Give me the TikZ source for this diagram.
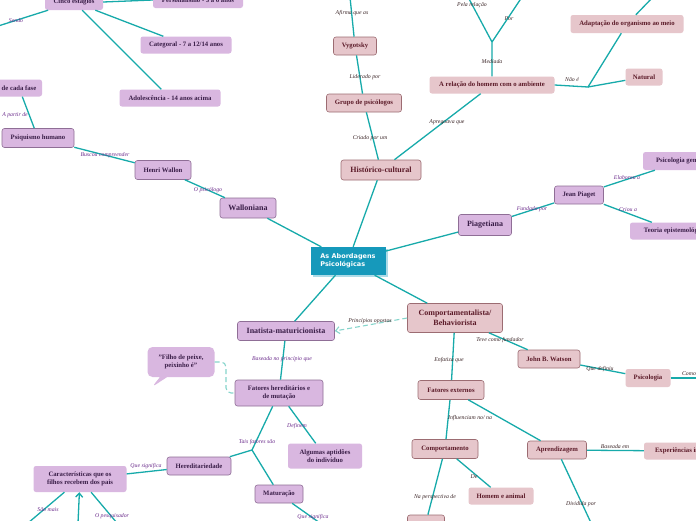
\documentclass[tikz,border=0pt]{standalone}
\usepackage{fontspec}
\setmainfont{Liberation Serif}
\newfontfamily\hubfont{DejaVu Sans}
\usetikzlibrary{arrows.meta,shapes.callouts,shadows}
\definecolor{linkteal}{HTML}{17AAAA}
\definecolor{dashteal}{HTML}{86D5CC}
\definecolor{hubblue}{HTML}{1699BB}
\definecolor{lilac}{HTML}{D9B7E0}
\definecolor{lilacline}{HTML}{8F6E96}
\definecolor{lilactext}{HTML}{3A1E48}
\definecolor{rose}{HTML}{E6C6CB}
\definecolor{roseline}{HTML}{9C6C72}
\definecolor{rosetext}{HTML}{5B1A28}
\definecolor{lbllilac}{HTML}{6B2C8C}
\definecolor{lblrose}{HTML}{3A2426}
\tikzset{
  box/.style={rounded corners=2.5pt,font=\fontsize{6.7}{8}\selectfont\bfseries,align=center,inner sep=1pt},
  lil/.style={box,fill=lilac,text=lilactext},
  lilb/.style={lil,draw=lilacline,line width=0.6pt},
  ros/.style={box,fill=rose,text=rosetext},
  rosb/.style={ros,draw=roseline,line width=0.6pt},
  big/.style={font=\fontsize{8}{9.5}\selectfont\bfseries},
  sz/.style 2 args={minimum width=#1pt,minimum height=#2pt},
  lbl/.style={font=\fontsize{5.8}{7}\selectfont\itshape,inner sep=0pt},
  llil/.style={lbl,text=lbllilac},
  lros/.style={lbl,text=lblrose},
  link/.style={draw=linkteal,line width=1.3pt},
  dashlink/.style={draw=dashteal,line width=1.1pt,dash pattern=on 5pt off 3pt}
}
\begin{document}
\begin{tikzpicture}[x=1pt,y=-1pt]
  \fill[white] (0,0) rectangle (696,520);
  \useasboundingbox (0,0) rectangle (696,520);
  \node[fill=hubblue,text=white,align=left,sz={75}{28},inner sep=1pt,
        font=\hubfont\fontsize{6.5}{8}\selectfont\bfseries,
        drop shadow={shadow xshift=2pt,shadow yshift=-2pt,fill=hubblue!35,opacity=1}]
        (hub) at (348,261) {As Abordagens\\Psicológicas};
  \node[lil,sz={58}{16}] (cinco) at (74,2) {Cinco estágios};
  \node[lil,sz={90}{16}] (perso) at (198,0) {Personalismo - 3 a 6 anos};
  \node[lil,sz={91}{17}] (categ) at (186,45) {Categoral - 7 a 12/14 anos};
  \node[lil,sz={101}{17}] (adol) at (170,98) {Adolescência - 14 anos acima};
  \node[lil,sz={46}{17}] (cada) at (19,88) {de cada fase};
  \node[lilb,sz={72}{19}] (psiq) at (38,138) {Psiquismo humano};
  \node[lilb,sz={56}{19}] (henri) at (163,170) {Henri Wallon};
  \node[lilb,big,sz={56}{20}] (wallo) at (248,208) {Walloniana};
  \node[rosb,big,sz={80}{20}] (hist) at (381,170) {Histórico-cultural};
  \node[rosb,sz={75}{18}] (grupo) at (364,103) {Grupo de psicólogos};
  \node[rosb,sz={43}{18}] (vygo) at (355,46) {Vygotsky};
  \node[ros,sz={125}{17}] (rel) at (492,85) {A relação do homem com o ambiente};
  \node[ros,sz={113}{18}] (adap) at (627,24) {Adaptação do organismo ao meio};
  \node[ros,sz={37}{17}] (natu) at (644,77) {Natural};
  \node[lilb,big,sz={53}{21}] (piag) at (485,225) {Piagetiana};
  \node[lilb,sz={49}{18}] (jean) at (579,195) {Jean Piaget};
  \node[lil,sz={80}{18}] (psigen) at (683,161) {Psicologia genética};
  \node[lil,sz={90}{17}] (teoria) at (675,231) {Teoria epistemológica};
  \node[rosb,big,sz={95}{29}] (comp) at (455,318) {Comportamentalista/\\Behaviorista};
  \node[rosb,sz={62}{18}] (watson) at (549,359) {John B. Watson};
  \node[ros,sz={45}{18}] (psico) at (648,378) {Psicologia};
  \node[rosb,sz={66}{19}] (fext) at (451,390) {Fatores externos};
  \node[rosb,sz={66}{19}] (compo) at (445,449) {Comportamento};
  \node[ros,sz={65}{17}] (homem) at (501,496) {Homem e animal};
  \node[rosb,sz={59}{18}] (aprend) at (557,450) {Aprendizagem};
  \node[ros,sz={84}{17}] (exper) at (686,451) {Experiências internas};
  \node[rosb,sz={37}{14}] (persp) at (426,522) {};
  \node[lilb,big,sz={97}{19}] (inat) at (286,331) {Inatista-maturicionista};
  \node[lilb,sz={88}{26}] (fher) at (279,393) {Fatores hereditários e\\de mutação};
  \node[lil,rectangle callout,rounded corners=5pt,sz={67}{30},
        callout absolute pointer={(152,387)}] (quote) at (181,362) {"Filho de peixe,\\peixinho é"};
  \node[lil,sz={74}{25}] (aptid) at (325,456) {Algumas aptidões\\do indivíduo};
  \node[lilb,sz={64}{18}] (hered) at (199,466) {Hereditariedade};
  \node[lilb,sz={48}{18}] (matur) at (279,494) {Maturação};
  \node[lil,sz={93}{26}] (carac) at (80,479) {Características que os\\filhos recebem dos pais};
  \coordinate (w1) at (-5,27);
  \coordinate (t1) at (350,-3);
  \coordinate (j1) at (492,42);
  \coordinate (t2) at (468,-3);
  \coordinate (t3) at (522,-3);
  \coordinate (j2) at (588,87);
  \coordinate (t4) at (653,-3);
  \coordinate (e1) at (700,378);
  \coordinate (b1) at (592,525);
  \coordinate (jq) at (226,376);
  \coordinate (j3) at (252,450);
  \coordinate (b2) at (320,523);
  \coordinate (b3) at (28,523);
  \coordinate (b4) at (78,523);
  \coordinate (b5) at (117,523);
  \draw[link] (cinco.east) -- (perso.west);
  \draw[link] (cinco) -- (categ);
  \draw[link] (cinco) -- (adol);
  \draw[link] (cinco) -- (w1);
  \draw[link] (cada) -- (psiq);
  \draw[link] (psiq) -- (henri);
  \draw[link] (henri) -- (wallo);
  \draw[link] (wallo) -- (hub);
  \draw[link] (hub) -- (hist);
  \draw[link] (hist) -- (grupo);
  \draw[link] (grupo) -- (vygo);
  \draw[link] (vygo) -- (t1);
  \draw[link] (hist) -- (rel);
  \draw[link] (rel) -- (j1) -- (t2);
  \draw[link] (j1) -- (t3);
  \draw[link] (rel.east) -- (j2) -- (adap);
  \draw[link] (j2) -- (natu);
  \draw[link] (adap) -- (t4);
  \draw[link] (hub) -- (piag);
  \draw[link] (piag) -- (jean);
  \draw[link] (jean) -- (psigen);
  \draw[link] (jean) -- (teoria);
  \draw[link] (hub) -- (comp);
  \draw[dashlink,-{Straight Barb[length=4pt,width=7pt]}] (comp.west) -- (inat.east);
  \draw[link] (comp) -- (fext);
  \draw[link] (comp) -- (watson);
  \draw[link] (watson) -- (psico);
  \draw[link] (psico) -- (e1);
  \draw[link] (fext) -- (compo);
  \draw[link] (fext) -- (aprend);
  \draw[link] (compo) -- (persp);
  \draw[link] (compo) -- (homem);
  \draw[link] (aprend) -- (exper);
  \draw[link] (aprend) -- (b1);
  \draw[link] (hub) -- (inat);
  \draw[link] (inat) -- (fher);
  \draw[dashlink,rounded corners=5pt] (quote.east) -| (jq) |- (fher.west);
  \draw[link] (fher) -- (aptid);
  \draw[link] (fher) -- (j3) -- (hered);
  \draw[link] (j3) -- (matur);
  \draw[link] (matur) -- (b2);
  \draw[link] (hered) -- (carac);
  \draw[link] (carac) -- (b3);
  \draw[link,-{Straight Barb[length=4pt,width=7pt]}] (b4) -- (carac);
  \draw[link] (carac) -- (b5);
  \node[llil] (l1) at (16,21) {Sendo};
  \node[llil] (l2) at (15,115) {A partir de};
  \node[llil] (l3) at (105,155) {Buscou compreender};
  \node[llil] (l4) at (208,190) {O psicólogo};
  \node[lros] (l5) at (352,13) {Afirma que as};
  \node[lros] (l6) at (365,77) {Liderado por};
  \node[lros] (l7) at (370,138) {Criado por um};
  \node[lros] (l8) at (447,122) {Apregoava que};
  \node[lros] (l9) at (492,62) {Mediada};
  \node[lros] (l10) at (472,5) {Pela relação};
  \node[lros] (l11) at (509,19) {Por};
  \node[lros] (l12) at (572,80) {Não é};
  \node[llil] (l13) at (532,209) {Fundada por};
  \node[llil] (l14) at (627,178) {Elaborou a};
  \node[llil] (l15) at (628,210) {Criou a};
  \node[lros] (l16) at (370,321) {Princípios opostos};
  \node[lros] (l17) at (449,360) {Enfatiza que};
  \node[lros] (l18) at (500,340) {Teve como fundador};
  \node[lros] (l19) at (600,369) {Que definiu};
  \node[lros] (l20) at (689,374) {Como};
  \node[lros] (l21) at (470,418) {Influenciam no/ na};
  \node[lros] (l22) at (435,497) {Na perspectiva de};
  \node[lros] (l23) at (474,477) {De};
  \node[lros] (l24) at (615,447) {Baseada em};
  \node[lros] (l25) at (581,504) {Dividida por};
  \node[llil] (l26) at (282,359) {Baseada no  princípio que};
  \node[llil] (l27) at (297,426) {Definem};
  \node[llil] (l28) at (257,442) {Tais fatores são};
  \node[llil] (l29) at (313,517) {Que significa};
  \node[llil] (l30) at (146,466) {Que significa};
  \node[llil] (l31) at (48,510) {São mais};
  \node[llil] (l32) at (112,516) {O pesquisador};
\end{tikzpicture}
\end{document}
